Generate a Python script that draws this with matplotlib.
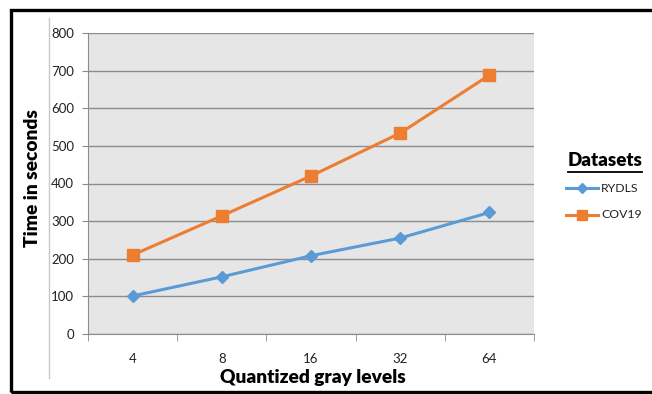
import matplotlib.pyplot as plt
from matplotlib.patches import Rectangle
from matplotlib.lines import Line2D
import numpy as np

levels = ['4', '8', '16', '32', '64']
rydls = [101, 152, 208, 255, 323]
cov19 = [210, 314, 420, 534, 688]

blue = '#5b9bd5'
orange = '#ed7d31'
plt.rcParams['font.family'] = ['Lato', 'DejaVu Sans']

fig = plt.figure(figsize=(6.52, 3.94), dpi=100)
ax = fig.add_axes([88/652, 60/394, 446/652, 301/394])
ax.set_facecolor('#e6e6e6')

x = np.arange(len(levels))
ax.plot(x, rydls, color=blue, lw=2.2, marker='D', ms=6.5, label='RYDLS')
ax.plot(x, cov19, color=orange, lw=2.2, marker='s', ms=8, label='COV19')

ax.set_ylim(0, 800)
ax.set_yticks(range(0, 801, 100))
ax.set_xlim(-0.5, len(levels) - 0.5)
ax.set_xticks(x)
ax.set_xticklabels(levels)
ax.set_xticks(np.arange(-0.5, len(levels)), minor=True)
ax.tick_params(axis='x', which='major', length=0, pad=14, labelsize=9.5, colors='#222222')
ax.tick_params(axis='x', which='minor', length=5, color='#8c8c8c', direction='out')
ax.tick_params(axis='y', length=4, color='#8c8c8c', labelsize=9.5, colors='#222222', pad=6)
ax.grid(axis='y', color='#8c8c8c', lw=1)
ax.set_axisbelow(True)
for s in ['top', 'right']:
    ax.spines[s].set_visible(False)
for s in ['left', 'bottom']:
    ax.spines[s].set_color('#8c8c8c')

fig.text(32/652, 1 - 178/394, 'Time in seconds', rotation=90, ha='center', va='center',
         fontsize=13.8, fontweight='heavy')
fig.text(313/652, 1 - 377/394, 'Quantized gray levels', ha='center', va='center',
         fontsize=13.8, fontweight='heavy')

# legend drawn by hand
fig.text(605/652, 1 - 161/394, 'Datasets', ha='center', va='center', fontsize=13.5,
         fontweight='heavy')
fig.add_artist(Line2D([568/652, 642/652], [1 - 172/394] * 2, color='black', lw=1.3))
for yy, col, mk, ms, lab in [(188, blue, 'D', 5, 'RYDLS'), (215, orange, 's', 6.5, 'COV19')]:
    fig.add_artist(Line2D([566/652, 598/652], [1 - yy/394] * 2, color=col, lw=2.2))
    fig.add_artist(Line2D([582/652], [1 - yy/394], color=col, marker=mk, ms=ms, lw=0))
    fig.text(601/652, 1 - yy/394, lab, ha='left', va='center', fontsize=8.8, color='#222222')

# stray vertical line and outer border (open on the right)
fig.add_artist(Line2D([49/652] * 2, [1 - 18/394, 1 - 378/394], color='#c8c8c8', lw=1))
fig.add_artist(Rectangle((10.5/652, 1 - 392/394), 700/652, 382/394, fill=False,
                         edgecolor='black', lw=2.4, transform=fig.transFigure))

fig.savefig('out.png', dpi=100)
